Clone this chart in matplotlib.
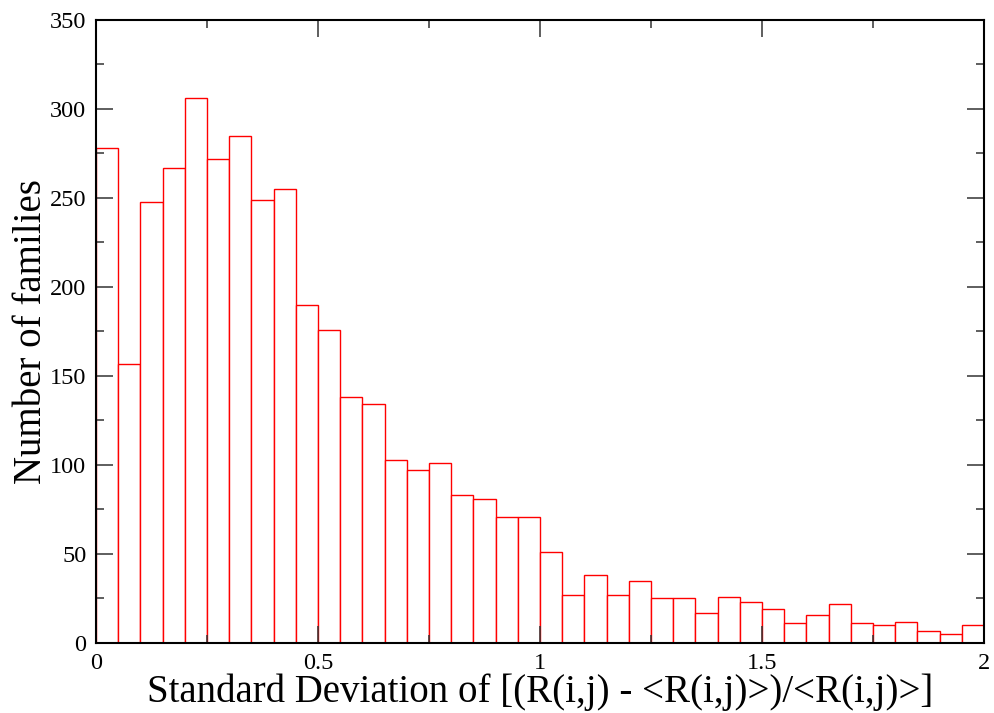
import matplotlib
matplotlib.use("Agg")
import matplotlib.pyplot as plt
from matplotlib.ticker import MultipleLocator, FuncFormatter

# Histogram of per-family standard deviations (bin width 0.05)
bin_width = 0.05
bin_starts = [round(i * bin_width, 2) for i in range(40)]
counts = [278, 157, 248, 267, 306, 272, 285, 249, 255, 190,
          176, 138, 134, 103, 97, 101, 83, 81, 71, 71,
          51, 27, 38, 27, 35, 25, 25, 17, 26, 23,
          19, 11, 16, 22, 11, 10, 12, 7, 5, 10]

plt.rcParams['font.family'] = ['Liberation Serif', 'DejaVu Serif']

fig = plt.figure(figsize=(9.94, 7.13), dpi=100)
ax = fig.add_axes([0.0966, 0.0982, 0.8934, 0.8738])

ax.bar(bin_starts, counts, width=bin_width, align='edge',
       facecolor='white', edgecolor='#ff0000', linewidth=1.0)

ax.set_xlim(0, 2)
ax.set_ylim(0, 350)
ax.xaxis.set_major_locator(MultipleLocator(0.5))
ax.xaxis.set_minor_locator(MultipleLocator(0.25))
ax.yaxis.set_major_locator(MultipleLocator(50))
ax.yaxis.set_minor_locator(MultipleLocator(25))
ax.xaxis.set_major_formatter(FuncFormatter(lambda v, p: f"{v:g}"))

ax.tick_params(which='both', direction='in', top=True, right=True,
               labelsize=17.5, width=1.1, color='#333333')
ax.tick_params(which='major', length=12.5)
ax.tick_params(which='minor', length=6)
ax.tick_params(axis='x', pad=7)
ax.tick_params(axis='y', pad=7)
for s in ax.spines.values():
    s.set_linewidth(1.5)

ax.set_xlabel('Standard Deviation of [(R(i,j) - <R(i,j)>)/<R(i,j)>]',
              fontsize=28, labelpad=0)
ax.set_ylabel('Number of families', fontsize=28, labelpad=0)

fig.savefig('out.png', dpi=100)
